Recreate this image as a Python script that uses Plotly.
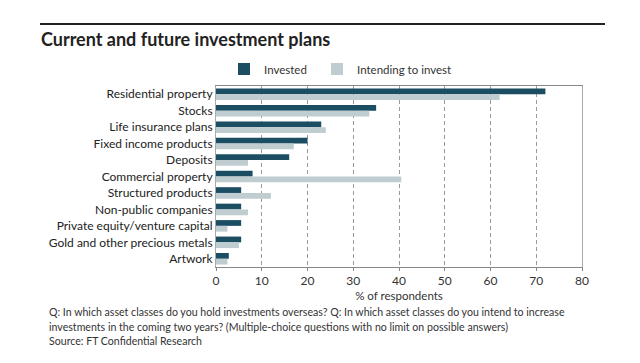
import plotly.graph_objects as go

categories = ["Residential property", "Stocks", "Life insurance plans", "Fixed income products",
              "Deposits", "Commercial property", "Structured products", "Non-public companies",
              "Private equity/venture capital", "Gold and other precious metals", "Artwork"]
invested = [72, 35, 23, 20, 16, 8, 5.5, 5.5, 5.5, 5.5, 2.8]
intending = [62, 33.5, 24, 17, 7, 40.5, 12, 7, 2.5, 5, 2.5]
x_ticks = [0, 10, 20, 30, 40, 50, 60, 70, 80]

OFF = 8  # page body margin
W, H = 640, 363
L, T = 216 - OFF, 86 - OFF
R = W - (582 - OFF)
B = H - (267 - OFF)
pw, ph = W - L - R, H - T - B

def px(x):
    return (x - OFF - L) / pw

def py(y):
    return 1 - (y - OFF - T) / ph

FONT = "Lato"
DARK = "#1b4d63"
LIGHT = "#bfcdd0"

fig = go.Figure()
fig.add_trace(go.Bar(y=categories, x=invested, orientation="h", name="Invested",
                     marker=dict(color=DARK, line=dict(width=0)), legend="legend"))
fig.add_trace(go.Bar(y=categories, x=intending, orientation="h", name="Intending to invest",
                     marker=dict(color=LIGHT, line=dict(width=0)), legend="legend2"))

leg_common = dict(orientation="h", yanchor="middle", xanchor="left",
                  font=dict(size=11.5, color="#333"), itemwidth=30, bgcolor="rgba(0,0,0,0)")

fig.update_layout(
    width=W, height=H,
    margin=dict(l=L, r=R, t=T, b=B),
    paper_bgcolor="white", plot_bgcolor="white",
    barmode="group", bargap=0.3, bargroupgap=0,
    font=dict(family=FONT, size=11, color="#333"),
    legend=dict(x=px(224), y=py(69), **leg_common),
    legend2=dict(x=px(317), y=py(69), **leg_common),
    xaxis=dict(range=[0, 80], tickvals=x_ticks, showgrid=True, gridcolor="#9a9a9a",
               griddash="4px,3px", gridwidth=1, showline=True, linecolor="#888", mirror=True,
               ticks="outside", ticklen=3, tickcolor="#888", zeroline=False,
               tickfont=dict(size=12, color="#333"),
               title=dict(text="% of respondents", font=dict(size=11.5, color="#333"), standoff=4)),
    yaxis=dict(autorange="reversed", showline=True, linecolor="#aaa", mirror=True,
               ticks="", tickfont=dict(size=12, color="#222"), showgrid=False),
    showlegend=True,
)

fig.add_shape(type="line", xref="paper", yref="paper", x0=px(40), x1=px(605),
              y0=py(24), y1=py(24), line=dict(color="#222", width=2))
fig.add_annotation(text="<b>Current and future investment plans</b>", xref="paper", yref="paper",
                   x=px(39), y=py(39), xanchor="left", yanchor="middle", showarrow=False,
                   font=dict(size=18, color="#222", family=FONT))
notes = ["Q: In which asset classes do you hold investments overseas? Q: In which asset classes do you intend to increase",
         "investments in the coming two years? (Multiple-choice questions with no limit on possible answers)",
         "Source: FT Confidential Research"]
for i, t in enumerate(notes):
    fig.add_annotation(text=t, xref="paper", yref="paper", x=px(47), y=py(312 + 14.5 * i),
                       xanchor="left", yanchor="middle", showarrow=False,
                       font=dict(size=10.6, color="#333", family=FONT))

fig.write_html("out.html")
